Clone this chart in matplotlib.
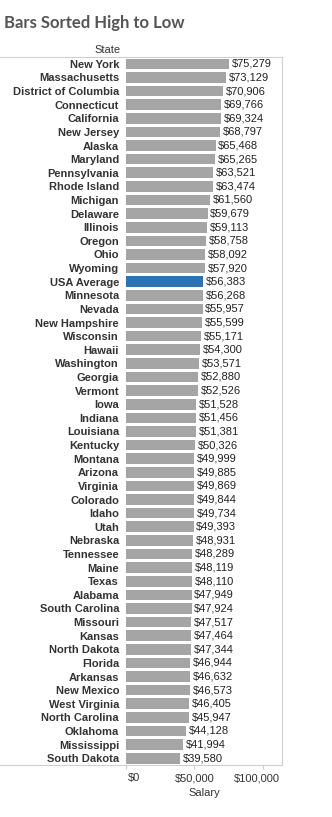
import matplotlib.pyplot as plt
from matplotlib.lines import Line2D
from matplotlib.transforms import ScaledTranslation

plt.rcParams["font.family"] = ["Liberation Sans", "DejaVu Sans"]

states = [
    "New York", "Massachusetts", "District of Columbia", "Connecticut", "California",
    "New Jersey", "Alaska", "Maryland", "Pennsylvania", "Rhode Island", "Michigan",
    "Delaware", "Illinois", "Oregon", "Ohio", "Wyoming", "USA Average", "Minnesota",
    "Nevada", "New Hampshire", "Wisconsin", "Hawaii", "Washington", "Georgia",
    "Vermont", "Iowa", "Indiana", "Louisiana", "Kentucky", "Montana", "Arizona",
    "Virginia", "Colorado", "Idaho", "Utah", "Nebraska", "Tennessee", "Maine",
    "Texas", "Alabama", "South Carolina", "Missouri", "Kansas", "North Dakota",
    "Florida", "Arkansas", "New Mexico", "West Virginia", "North Carolina",
    "Oklahoma", "Mississippi", "South Dakota",
]
salary = [
    75279, 73129, 70906, 69766, 69324, 68797, 65468, 65265, 63521, 63474, 61560,
    59679, 59113, 58758, 58092, 57920, 56383, 56268, 55957, 55599, 55171, 54300,
    53571, 52880, 52526, 51528, 51456, 51381, 50326, 49999, 49885, 49869, 49844,
    49734, 49393, 48931, 48289, 48119, 48110, 47949, 47924, 47517, 47464, 47344,
    46944, 46632, 46573, 46405, 45947, 44128, 41994, 39580,
]
x_ticks = [0, 50000, 100000]
x_tick_labels = ["$0", "$50,000", "$100,000"]

colors = ["#2b73b3" if s == "USA Average" else "#a5a5a5" for s in states]

fig = plt.figure(figsize=(3.32, 8.17), dpi=100)
ax = fig.add_axes([0.3795, 0.0636, 0.4695, 0.8666])

y = list(range(len(states)))
ax.barh(y, salary, height=0.78, color=colors)
for yi, v in zip(y, salary):
    ax.text(v + 2000, yi, f"${v:,}", va="center", ha="left", fontsize=8, color="#222222")

ax.set_ylim(len(states) - 0.5, -0.5)
ax.set_xlim(0, 114000)
ax.set_yticks(y)
ax.set_yticklabels(states, fontsize=8, fontweight="bold", color="#333333")
ax.tick_params(axis="y", length=0, pad=5)
ax.set_xticks(x_ticks)
ax.set_xticklabels(x_tick_labels, fontsize=8, color="#333333")
ax.tick_params(axis="x", length=3, color="#cccccc", pad=3)
ax.set_xlabel("Salary", fontsize=8, color="#333333", labelpad=3)

# nudge end labels inward like the original
shifts = [6, 0, -4]
for lab, dx in zip(ax.get_xticklabels(), shifts):
    lab.set_transform(lab.get_transform() + ScaledTranslation(dx / 72, 0, fig.dpi_scale_trans))

for side in ["top", "bottom", "left"]:
    ax.spines[side].set_visible(False)
ax.spines["right"].set_color("#d0d0d0")

# top and bottom rules spanning the label column
for yy in [0.9302, 0.0636]:
    fig.add_artist(Line2D([0.0, 0.849], [yy, yy], color="#d0d0d0", lw=0.8))

fig.text(0.012, 0.972, "Bars Sorted High to Low", fontsize=12, fontweight="bold",
         color="#555555", family="Lato", va="center")
fig.text(0.362, 0.9385, "State", fontsize=8, color="#333333", ha="right", va="center")

fig.savefig("out.png", dpi=100)
